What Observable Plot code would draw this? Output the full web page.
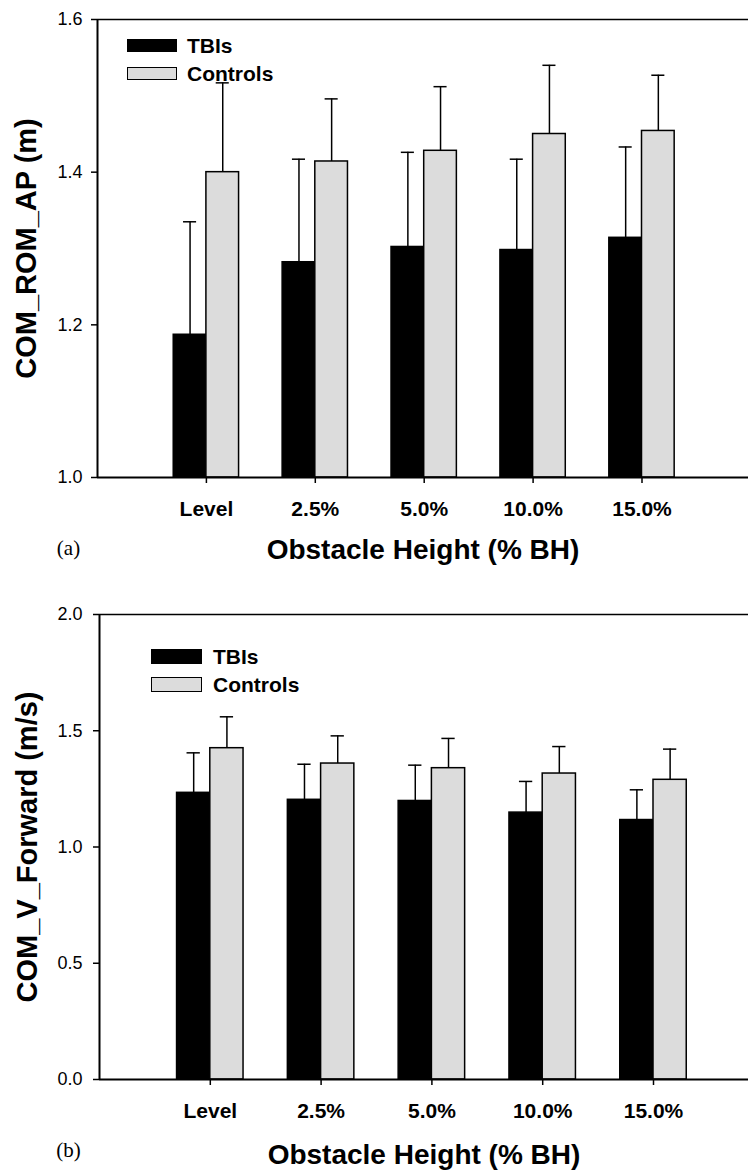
<!DOCTYPE html>
<html>
<head>
<meta charset="utf-8">
<script src="https://cdn.jsdelivr.net/npm/d3@7"></script>
<script src="https://cdn.jsdelivr.net/npm/@observablehq/plot@0.6"></script>
<style>
  body { margin: 0; background: #fff; }
  #wrap { position: relative; width: 748px; height: 1171px; overflow: hidden; font-family: "Liberation Sans", Arial, sans-serif; }
  .panel { position: relative; width: 748px; }
  .panel svg { display: block; overflow: visible; }
  .leg { position: absolute; display: flex; align-items: center; }
  .leg .sw { display: inline-block; box-sizing: border-box; border: 1.5px solid #000; }
  .leg .lb { font-weight: bold; font-size: 21px; line-height: 1; color: #000; }
</style>
</head>
<body>
<div id="wrap"></div>
<script>
// ---- data ----
const conditions = ["Level", "2.5%", "5.0%", "10.0%", "15.0%"];
const groups = ["TBIs", "Controls"];
const groupColors = ["#000000", "#dcdcdc"];

// Panel (a): COM_ROM_AP (m)
const romTbiMean = [1.187, 1.282, 1.302, 1.298, 1.314];
const romTbiSd   = [0.148, 0.135, 0.124, 0.119, 0.119];
const romCtrlMean = [1.400, 1.414, 1.428, 1.450, 1.454];
const romCtrlSd   = [0.117, 0.082, 0.084, 0.090, 0.073];
const romTicks = [1.0, 1.2, 1.4, 1.6];

// Panel (b): COM_V_Forward (m/s)
const velTbiMean = [1.233, 1.203, 1.198, 1.148, 1.116];
const velTbiSd   = [0.172, 0.153, 0.154, 0.134, 0.130];
const velCtrlMean = [1.425, 1.359, 1.339, 1.316, 1.289];
const velCtrlSd   = [0.135, 0.119, 0.128, 0.116, 0.132];
const velTicks = [0.0, 0.5, 1.0, 1.5, 2.0];

const xTitle = "Obstacle Height (% BH)";

function buildRows(tbiMean, tbiSd, ctrlMean, ctrlSd) {
  const rows = [];
  conditions.forEach((c, k) => {
    rows.push({cond: c, i: k + 1, group: groups[0], mean: tbiMean[k], sd: tbiSd[k], off: -1});
    rows.push({cond: c, i: k + 1, group: groups[1], mean: ctrlMean[k], sd: ctrlSd[k], off: 0});
  });
  return rows;
}

function makePanel(cfg) {
  const bw = 0.30;   // bar width in category steps
  const cap = 0.06;  // half cap width
  const rows = buildRows(cfg.tbiMean, cfg.tbiSd, cfg.ctrlMean, cfg.ctrlSd);
  const ymin = cfg.ticks[0], ymax = cfg.ticks[cfg.ticks.length - 1];
  const left = cfg.marginLeft;
  const center = d => d.i + (d.off + 0.5) * bw;
  return Plot.plot({
    width: 748,
    height: cfg.height,
    marginLeft: left,
    marginRight: 0,
    marginTop: cfg.marginTop,
    marginBottom: cfg.marginBottom,
    style: {fontFamily: "'Liberation Sans', Arial, sans-serif", background: "#fff", overflow: "visible"},
    x: {type: "linear", domain: [0, 6], range: [left, left + 6 * cfg.step], axis: null},
    y: {domain: [ymin, ymax], axis: null},
    color: {domain: groups, range: groupColors},
    marks: [
      Plot.rectY(rows, {
        x1: d => d.i + d.off * bw,
        x2: d => d.i + (d.off + 1) * bw,
        y1: () => ymin,
        y2: "mean",
        fill: "group",
        stroke: "#000",
        strokeWidth: 1.5
      }),
      Plot.ruleX(rows, {x: center, y1: "mean", y2: d => d.mean + d.sd, stroke: "#000", strokeWidth: 1.5}),
      Plot.ruleY(rows, {y: d => d.mean + d.sd, x1: d => center(d) - cap, x2: d => center(d) + cap, stroke: "#000", strokeWidth: 1.5}),
      // frame lines
      Plot.ruleX([0], {y1: ymin, y2: ymax, stroke: "#000", strokeWidth: 2}),
      Plot.ruleY([ymin], {x1: 0, x2: 6, stroke: "#000", strokeWidth: 2}),
      Plot.ruleY([ymax], {x1: 0, x2: 6, stroke: "#000", strokeWidth: 1.5}),
      Plot.axisY({
        ticks: cfg.ticks, tickFormat: d3.format(".1f"), tickSize: 6, tickPadding: cfg.yPad,
        fontSize: 18, label: null, stroke: "#000", strokeWidth: 1.5
      }),
      Plot.axisX({
        ticks: [1, 2, 3, 4, 5], tickFormat: i => conditions[i - 1], tickSize: 6, tickPadding: 18,
        fontSize: 21, fontWeight: "bold", label: null, stroke: "#000", strokeWidth: 1.5
      }),
      Plot.text([cfg.yTitle], {
        frameAnchor: "left", rotate: -90, dx: cfg.yTitleDx, textAnchor: "middle", lineAnchor: "middle",
        fontSize: 29, fontWeight: "bold", fill: "#000"
      }),
      Plot.text([xTitle], {
        frameAnchor: "bottom", dy: cfg.xTitleDy, textAnchor: "middle", lineAnchor: "middle",
        fontSize: 28, fontWeight: "bold", fill: "#000"
      }),
      Plot.text([cfg.letter], {
        frameAnchor: "bottom-left", dx: cfg.letterDx, dy: 71, textAnchor: "middle", lineAnchor: "middle",
        fontSize: 21, fontFamily: "'Liberation Serif', 'Times New Roman', serif", fill: "#000"
      })
    ]
  });
}

function addLegend(panel, lg) {
  groups.forEach((g, k) => {
    const item = document.createElement("div");
    item.className = "leg";
    item.style.left = lg.left + "px";
    item.style.top = lg.tops[k] + "px";
    item.style.height = lg.h + "px";
    const sw = document.createElement("span");
    sw.className = "sw";
    sw.style.width = lg.w + "px";
    sw.style.height = lg.h + "px";
    sw.style.background = groupColors[k];
    const lb = document.createElement("span");
    lb.className = "lb";
    lb.style.marginLeft = lg.gap + "px";
    lb.textContent = g;
    item.appendChild(sw);
    item.appendChild(lb);
    panel.appendChild(item);
  });
}

const wrap = document.getElementById("wrap");

const panelA = document.createElement("div");
panelA.className = "panel";
panelA.appendChild(makePanel({
  tbiMean: romTbiMean, tbiSd: romTbiSd, ctrlMean: romCtrlMean, ctrlSd: romCtrlSd,
  ticks: romTicks, height: 590, marginTop: 19, marginBottom: 113, marginLeft: 97, step: 108.9,
  yPad: 9, yTitle: "COM_ROM_AP (m)", yTitleDx: -71, xTitleDy: 73, letter: "(a)", letterDx: -29
}));
addLegend(panelA, {left: 127, tops: [39, 67], w: 50, h: 13, gap: 10});
wrap.appendChild(panelA);

const panelB = document.createElement("div");
panelB.className = "panel";
panelB.appendChild(makePanel({
  tbiMean: velTbiMean, tbiSd: velTbiSd, ctrlMean: velCtrlMean, ctrlSd: velCtrlSd,
  ticks: velTicks, height: 581, marginTop: 24, marginBottom: 92, marginLeft: 99, step: 110.8,
  yPad: 11, yTitle: "COM_V_Forward (m/s)", yTitleDx: -72, xTitleDy: 76, letter: "(b)", letterDx: -31
}));
addLegend(panelB, {left: 151, tops: [59, 87], w: 51, h: 15, gap: 11});
wrap.appendChild(panelB);
</script>
</body>
</html>
